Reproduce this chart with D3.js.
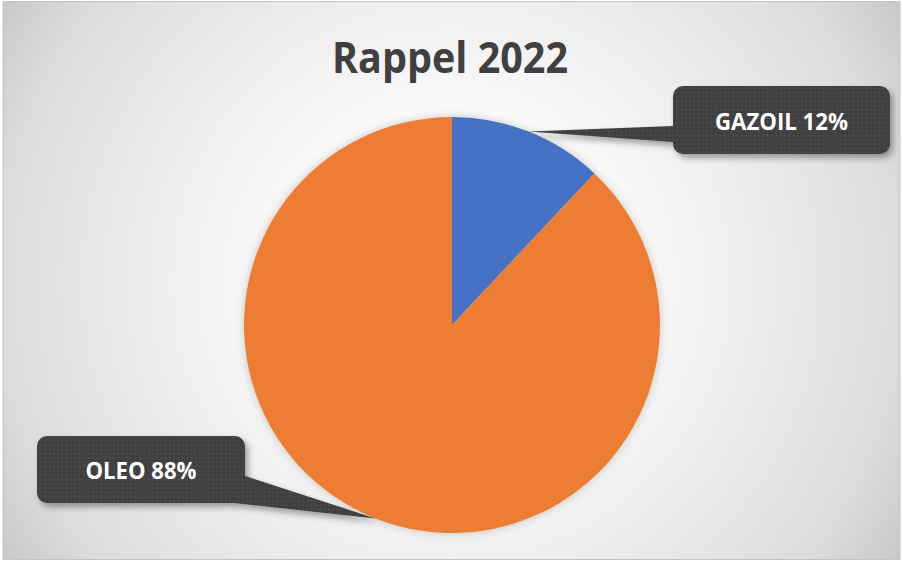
<!DOCTYPE html>
<html>
<head>
<meta charset="utf-8">
<script src="https://cdn.jsdelivr.net/npm/d3@7"></script>
<style>
  html, body { margin: 0; padding: 0; background: #ffffff; }
  svg { display: block; }
</style>
</head>
<body>
<svg id="chart" width="903" height="563"></svg>
<script>
// Fuel split for the 2022 recall
const title = "Rappel 2022";
const categories = ["GAZOIL", "OLEO"];
const values = [12, 88];
const colors = ["#4472C4", "#ED7D31"];

const svg = d3.select("#chart");
const cx = 452, cy = 325, radius = 208;

const defs = svg.append("defs");

// soft radial background
const bg = defs.append("radialGradient")
  .attr("id", "bgGrad")
  .attr("gradientUnits", "userSpaceOnUse")
  .attr("cx", 451).attr("cy", 281).attr("r", 530);
[[0, "#ffffff"], [0.25, "#fdfdfd"], [0.53, "#efefef"], [0.85, "#dcdcdc"], [1, "#c8c8c8"]]
  .forEach(([o, c]) => bg.append("stop").attr("offset", o).attr("stop-color", c));

// dotted fill for the callouts
const pat = defs.append("pattern")
  .attr("id", "dots")
  .attr("patternUnits", "userSpaceOnUse")
  .attr("width", 4.3).attr("height", 4.3);
pat.append("rect").attr("width", 4.3).attr("height", 4.3).attr("fill", "#3f3f3f");
pat.append("rect").attr("x", 1.5).attr("y", 1.5).attr("width", 1.3).attr("height", 1.3).attr("fill", "#5a5a5a");

const shadow = defs.append("filter").attr("id", "calloutShadow")
  .attr("x", "-20%").attr("y", "-20%").attr("width", "140%").attr("height", "160%");
shadow.append("feDropShadow")
  .attr("dx", 3).attr("dy", 4).attr("stdDeviation", 3)
  .attr("flood-color", "#000").attr("flood-opacity", 0.35);

const pieShadow = defs.append("filter").attr("id", "pieShadow")
  .attr("x", "-10%").attr("y", "-10%").attr("width", "120%").attr("height", "120%");
pieShadow.append("feDropShadow")
  .attr("dx", 0).attr("dy", 0).attr("stdDeviation", 4)
  .attr("flood-color", "#000").attr("flood-opacity", 0.2);

// chart area
svg.append("rect")
  .attr("x", 3).attr("y", 1.5).attr("width", 897).attr("height", 558)
  .attr("fill", "url(#bgGrad)")
  .attr("stroke", "#c4c4c4").attr("stroke-width", 1);

svg.append("text")
  .attr("x", 450).attr("y", 73)
  .attr("text-anchor", "middle")
  .attr("font-family", "'Open Sans', 'Noto Sans', sans-serif")
  .attr("font-weight", 700)
  .attr("font-size", 43)
  .attr("fill", "#404040")
  .attr("textLength", 236)
  .attr("lengthAdjust", "spacingAndGlyphs")
  .text(title);

const data = categories.map((c, i) => ({ name: c, value: values[i], color: colors[i] }));
const pie = d3.pie().value(d => d.value).sort(null);
const arcs = pie(data);
const arc = d3.arc().innerRadius(0).outerRadius(radius);

const g = svg.append("g").attr("transform", `translate(${cx},${cy})`);
g.append("g").attr("filter", "url(#pieShadow)")
  .selectAll("path")
  .data(arcs)
  .join("path")
  .attr("d", arc)
  .attr("fill", d => d.data.color);

const total = d3.sum(values);
const fmt = v => `${Math.round(v / total * 100)}%`;

// callout boxes (left, top, right, bottom) and pointer base points
const callouts = [
  { box: [673, 86, 890, 154], base: [[673, 126], [673, 142]], textW: 133, ty: 130 },
  { box: [37, 436, 245, 503], base: [[245, 476], [234, 503]], textW: 111, ty: 479 }
];

arcs.forEach((a, i) => {
  const c = callouts[i];
  const mid = (a.startAngle + a.endAngle) / 2;
  const tip = [cx + Math.sin(mid) * radius, cy - Math.cos(mid) * radius];
  const grp = svg.append("g").attr("filter", "url(#calloutShadow)");
  grp.append("path")
    .attr("d", d3.line()([tip, c.base[0], c.base[1]]) + "Z")
    .attr("fill", "url(#dots)");
  const [x0, y0, x1, y1] = c.box;
  grp.append("rect")
    .attr("x", x0).attr("y", y0)
    .attr("width", x1 - x0).attr("height", y1 - y0)
    .attr("rx", 10).attr("ry", 10)
    .attr("fill", "url(#dots)");
  svg.append("text")
    .attr("x", (x0 + x1) / 2).attr("y", c.ty)
    .attr("text-anchor", "middle")
    .attr("font-family", "'Open Sans', 'Noto Sans', sans-serif")
    .attr("font-weight", 700)
    .attr("font-size", 23)
    .attr("fill", "#ffffff")
    .attr("textLength", c.textW)
    .attr("lengthAdjust", "spacingAndGlyphs")
    .text(`${a.data.name} ${fmt(a.data.value)}`);
});
</script>
</body>
</html>
